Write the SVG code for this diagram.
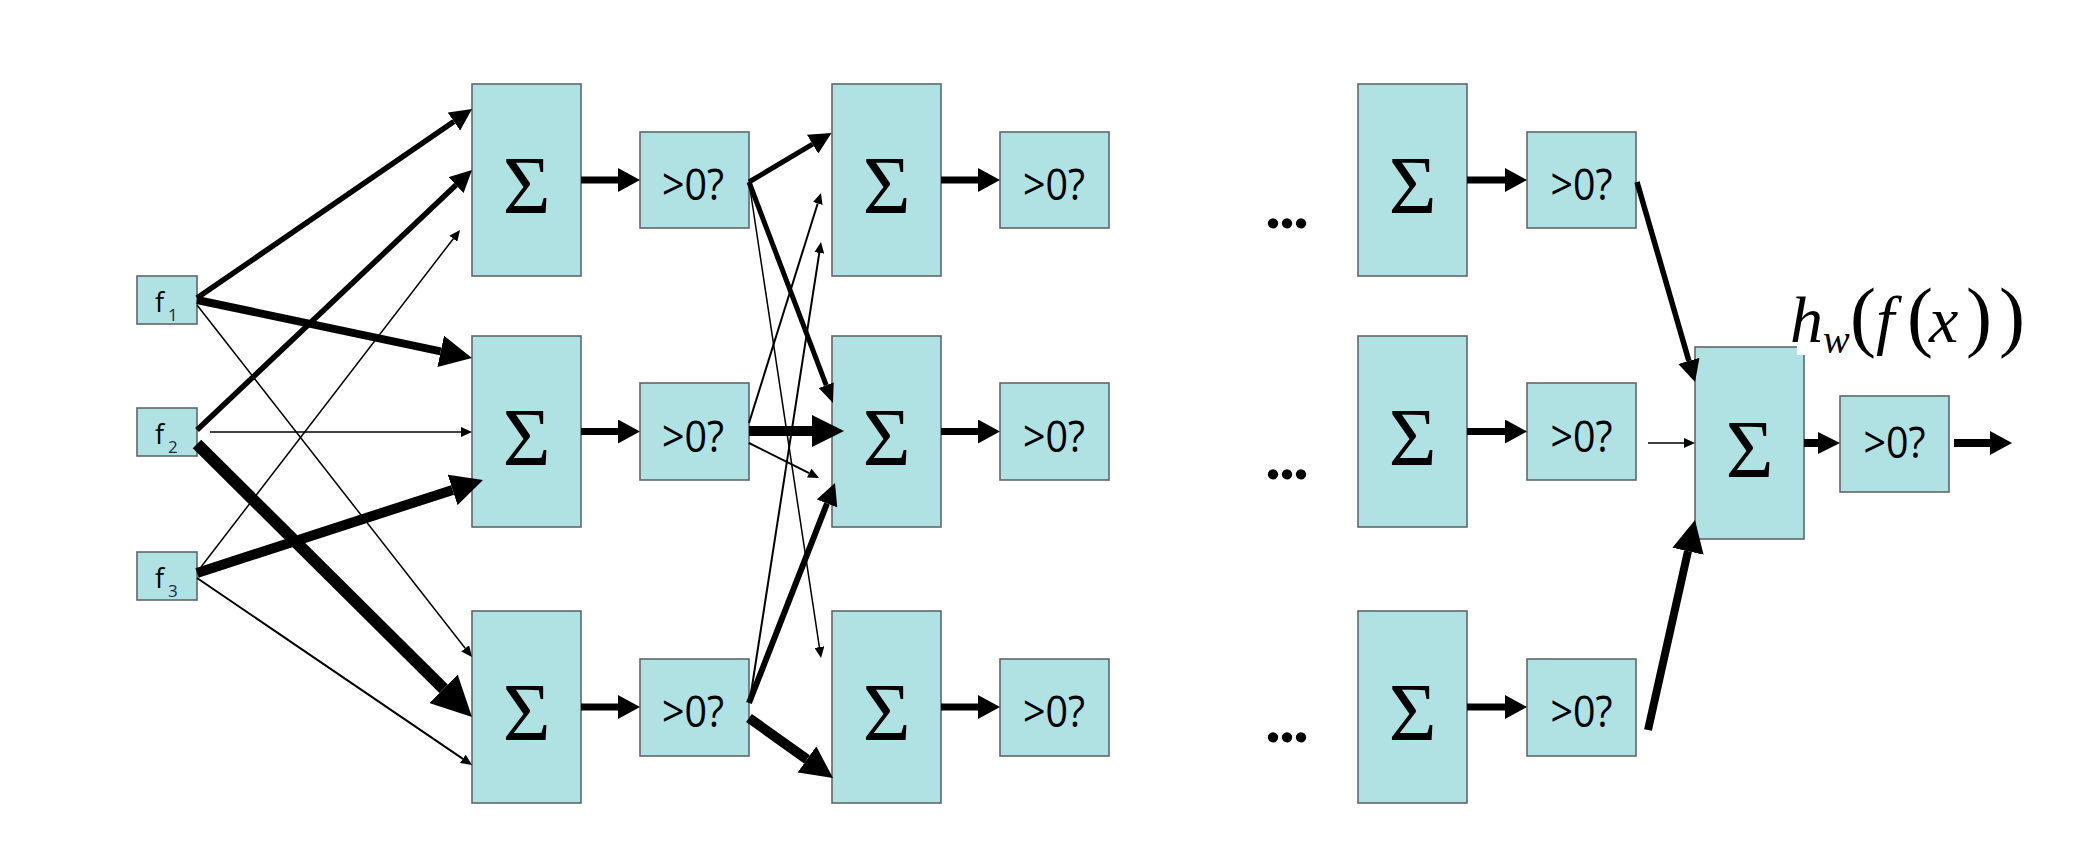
<svg xmlns="http://www.w3.org/2000/svg" width="2088" height="854" viewBox="0 0 2088 854">
<style>
.box{fill:#b0e2e4;stroke:#606868;stroke-width:1.6}
.sig{font-family:"Liberation Serif","DejaVu Serif",serif;font-size:82px;fill:#000;text-anchor:middle}
.thr{font-family:"Open Sans","DejaVu Sans",sans-serif;font-size:44px;fill:#000;text-anchor:middle}
.fl{font-family:"Open Sans","DejaVu Sans",sans-serif;font-size:27px;fill:#000}
.fs{font-family:"Open Sans","DejaVu Sans",sans-serif;font-size:17px;fill:#1c2a4a}
.dots{font-family:"Liberation Serif","DejaVu Serif",serif;font-weight:bold;font-size:64px;letter-spacing:-2px;fill:#000}
.lab{font-family:"Liberation Serif","DejaVu Serif",serif;font-size:66px;fill:#000}
.c line{stroke:#000;fill:none}
</style>
<defs>
<marker id="m1" markerUnits="userSpaceOnUse" orient="auto" viewBox="0 -5 11 10" markerWidth="11" markerHeight="10" refX="0" refY="0"><path d="M0,-5L11,0L0,5z" fill="#000"/></marker>
<marker id="m2" markerUnits="userSpaceOnUse" orient="auto" viewBox="0 -8 19 16" markerWidth="19" markerHeight="16" refX="0" refY="0"><path d="M0,-8L19,0L0,8z" fill="#000"/></marker>
<marker id="m3" markerUnits="userSpaceOnUse" orient="auto" viewBox="0 -11 22 22" markerWidth="22" markerHeight="22" refX="0" refY="0"><path d="M0,-11L22,0L0,11z" fill="#000"/></marker>
<marker id="mh" markerUnits="userSpaceOnUse" orient="auto" viewBox="0 -12 22 24" markerWidth="22" markerHeight="24" refX="0" refY="0"><path d="M0,-12L22,0L0,12z" fill="#000"/></marker>
<marker id="m4" markerUnits="userSpaceOnUse" orient="auto" viewBox="0 -16 32 32" markerWidth="32" markerHeight="32" refX="0" refY="0"><path d="M0,-16L32,0L0,16z" fill="#000"/></marker>
<marker id="m5" markerUnits="userSpaceOnUse" orient="auto" viewBox="0 -20 40 40" markerWidth="40" markerHeight="40" refX="0" refY="0"><path d="M0,-20L40,0L0,20z" fill="#000"/></marker>
</defs>
<rect width="2088" height="854" fill="#fff"/>

<g id="f1"><rect class="box" x="137" y="276" width="60" height="48"/><text class="fl" x="155" y="312">f</text><text class="fs" x="168" y="321">1</text></g>
<g id="f2"><rect class="box" x="137" y="408" width="60" height="48"/><text class="fl" x="155" y="444">f</text><text class="fs" x="168" y="453">2</text></g>
<g id="f3"><rect class="box" x="137" y="552" width="60" height="48"/><text class="fl" x="155" y="588">f</text><text class="fs" x="168" y="597">3</text></g>

<g id="sum1a"><rect class="box" x="472" y="84" width="109" height="192"/><text class="sig" x="526.5" y="213">Σ</text></g>
<g id="sum1b"><rect class="box" x="472" y="336" width="109" height="191"/><text class="sig" x="526.5" y="464.5">Σ</text></g>
<g id="sum1c"><rect class="box" x="472" y="611" width="109" height="192"/><text class="sig" x="526.5" y="740">Σ</text></g>

<g id="thr1a"><rect class="box" x="640" y="132" width="109" height="96"/><text class="thr" x="693" y="200" textLength="62" lengthAdjust="spacingAndGlyphs">&gt;0?</text></g>
<g id="thr1b"><rect class="box" x="640" y="383" width="109" height="97"/><text class="thr" x="693" y="451.5" textLength="62" lengthAdjust="spacingAndGlyphs">&gt;0?</text></g>
<g id="thr1c"><rect class="box" x="640" y="659" width="109" height="97"/><text class="thr" x="693" y="727" textLength="62" lengthAdjust="spacingAndGlyphs">&gt;0?</text></g>

<g id="sum2a"><rect class="box" x="832" y="84" width="109" height="192"/><text class="sig" x="886.5" y="213">Σ</text></g>
<g id="sum2b"><rect class="box" x="832" y="336" width="109" height="191"/><text class="sig" x="886.5" y="464.5">Σ</text></g>
<g id="sum2c"><rect class="box" x="832" y="611" width="109" height="192"/><text class="sig" x="886.5" y="740">Σ</text></g>

<g id="thr2a"><rect class="box" x="1000" y="132" width="109" height="96"/><text class="thr" x="1054" y="200" textLength="62" lengthAdjust="spacingAndGlyphs">&gt;0?</text></g>
<g id="thr2b"><rect class="box" x="1000" y="383" width="109" height="97"/><text class="thr" x="1054" y="451.5" textLength="62" lengthAdjust="spacingAndGlyphs">&gt;0?</text></g>
<g id="thr2c"><rect class="box" x="1000" y="659" width="109" height="97"/><text class="thr" x="1054" y="727" textLength="62" lengthAdjust="spacingAndGlyphs">&gt;0?</text></g>

<g id="dots-a"><text class="dots" x="1265" y="228">...</text></g>
<g id="dots-b"><text class="dots" x="1265" y="479">...</text></g>
<g id="dots-c"><text class="dots" x="1265" y="742">...</text></g>

<g id="sumNa"><rect class="box" x="1358" y="84" width="109" height="192"/><text class="sig" x="1412.5" y="213">Σ</text></g>
<g id="sumNb"><rect class="box" x="1358" y="336" width="109" height="191"/><text class="sig" x="1412.5" y="464.5">Σ</text></g>
<g id="sumNc"><rect class="box" x="1358" y="611" width="109" height="192"/><text class="sig" x="1412.5" y="740">Σ</text></g>

<g id="thrNa"><rect class="box" x="1527" y="132" width="109" height="96"/><text class="thr" x="1581.5" y="200" textLength="62" lengthAdjust="spacingAndGlyphs">&gt;0?</text></g>
<g id="thrNb"><rect class="box" x="1527" y="383" width="109" height="97"/><text class="thr" x="1581.5" y="451.5" textLength="62" lengthAdjust="spacingAndGlyphs">&gt;0?</text></g>
<g id="thrNc"><rect class="box" x="1527" y="659" width="109" height="97"/><text class="thr" x="1581.5" y="727" textLength="62" lengthAdjust="spacingAndGlyphs">&gt;0?</text></g>

<g id="sumOut"><rect class="box" x="1695" y="347" width="109" height="192"/><text class="sig" x="1749.5" y="477">Σ</text></g>
<g id="thrOut"><rect class="box" x="1840" y="396" width="109" height="96"/><text class="thr" x="1894.5" y="458" textLength="62" lengthAdjust="spacingAndGlyphs">&gt;0?</text></g>

<g id="label">
<rect x="1797" y="285" width="245" height="70" fill="#fff"/>
<text class="lab" y="342"><tspan x="1790" font-style="italic">h</tspan><tspan x="1823" y="353" font-size="40" font-style="italic">w</tspan><tspan x="1850" y="342" font-size="78">(</tspan><tspan x="1876" font-style="italic">f</tspan><tspan x="1907" font-size="78">(</tspan><tspan x="1929" font-style="italic">x</tspan><tspan x="1966" font-size="78">)</tspan><tspan x="1999" font-size="78">)</tspan></text>
</g>

<g class="c" id="connectors">
<line x1="197" y1="298" x2="453.9" y2="121.5" stroke-width="5.5" marker-end="url(#m3)"/>
<line x1="197" y1="300" x2="440.7" y2="351.4" stroke-width="8" marker-end="url(#m4)"/>
<line x1="197" y1="305" x2="465.2" y2="648.3" stroke-width="1.5" marker-end="url(#m1)"/>
<line x1="197" y1="430" x2="456" y2="185.1" stroke-width="5.5" marker-end="url(#m3)"/>
<line x1="210" y1="432" x2="461" y2="432" stroke-width="1.5" marker-end="url(#m1)"/>
<line x1="197" y1="444" x2="443.6" y2="688.8" stroke-width="12" marker-end="url(#m5)"/>
<line x1="201" y1="567" x2="453.3" y2="238.7" stroke-width="1.5" marker-end="url(#m1)"/>
<line x1="197" y1="573" x2="452.6" y2="489.9" stroke-width="10" marker-end="url(#m4)"/>
<line x1="197" y1="578" x2="462.9" y2="758.8" stroke-width="2" marker-end="url(#m1)"/>
<line x1="581" y1="180" x2="618" y2="180" stroke-width="7" marker-end="url(#mh)"/>
<line x1="581" y1="431.5" x2="618" y2="431.5" stroke-width="7" marker-end="url(#mh)"/>
<line x1="581" y1="707" x2="618" y2="707" stroke-width="7" marker-end="url(#mh)"/>
<line x1="749" y1="182" x2="812.6" y2="144.2" stroke-width="5" marker-end="url(#m3)"/>
<line x1="749" y1="182" x2="826.2" y2="385.2" stroke-width="5" marker-end="url(#m2)"/>
<line x1="749" y1="182" x2="819.4" y2="647.1" stroke-width="1.5" marker-end="url(#m1)"/>
<line x1="749" y1="423" x2="817.7" y2="203.5" stroke-width="2" marker-end="url(#m1)"/>
<line x1="749" y1="431" x2="812" y2="431" stroke-width="10" marker-end="url(#m4)"/>
<line x1="749" y1="443" x2="809.2" y2="473.1" stroke-width="2" marker-end="url(#m1)"/>
<line x1="751" y1="693" x2="819.3" y2="252.9" stroke-width="2" marker-end="url(#m1)"/>
<line x1="749" y1="703" x2="827" y2="503.5" stroke-width="6" marker-end="url(#m3)"/>
<line x1="749" y1="718" x2="807" y2="759.4" stroke-width="10" marker-end="url(#m4)"/>
<line x1="941" y1="180" x2="978" y2="180" stroke-width="7" marker-end="url(#mh)"/>
<line x1="941" y1="431.5" x2="978" y2="431.5" stroke-width="7" marker-end="url(#mh)"/>
<line x1="941" y1="707" x2="978" y2="707" stroke-width="7" marker-end="url(#mh)"/>
<line x1="1467" y1="180" x2="1505" y2="180" stroke-width="7" marker-end="url(#mh)"/>
<line x1="1467" y1="431.5" x2="1505" y2="431.5" stroke-width="7" marker-end="url(#mh)"/>
<line x1="1467" y1="707" x2="1505" y2="707" stroke-width="7" marker-end="url(#mh)"/>
<line x1="1637" y1="182" x2="1688.9" y2="360.9" stroke-width="5.5" marker-end="url(#m3)"/>
<line x1="1648" y1="443" x2="1684" y2="443" stroke-width="1.5" marker-end="url(#m1)"/>
<line x1="1648" y1="730" x2="1688" y2="551.2" stroke-width="8" marker-end="url(#m4)"/>
<line x1="1804" y1="443" x2="1818" y2="443" stroke-width="8" marker-end="url(#m3)"/>
<line x1="1954" y1="443" x2="1990" y2="443" stroke-width="8" marker-end="url(#mh)"/>
</g>
</svg>
